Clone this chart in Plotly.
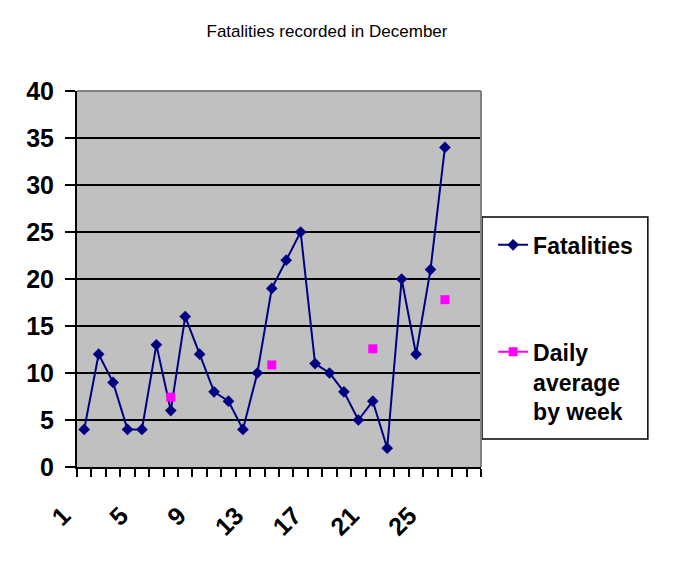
import plotly.graph_objects as go

# Days of December (categories 1..28 on the axis)
days = list(range(1, 27))
fatalities = [4, 12, 9, 4, 4, 13, 6, 16, 12, 8, 7, 4, 10,
              19, 22, 25, 11, 10, 8, 5, 7, 2, 20, 12, 21, 34]

# Weekly daily average, plotted on the last day of each week
avg_days = [7, 14, 21, 26]
avg_values = [7.43, 10.86, 12.57, 17.8]

x_labels = [1, 5, 9, 13, 17, 21, 25]
n_categories = 28

fig = go.Figure()

fig.add_trace(go.Scatter(
    x=days, y=fatalities,
    mode='lines+markers',
    name='Fatalities',
    legendgroup='a',
    line=dict(color='#000080', width=2),
    marker=dict(symbol='diamond', size=9, color='#000080'),
))

# put gaps between points so only markers show, but legend keeps the line
avg_x, avg_y = [], []
for d, v in zip(avg_days, avg_values):
    avg_x += [d, None]
    avg_y += [v, None]

fig.add_trace(go.Scatter(
    x=avg_x, y=avg_y,
    mode='lines+markers',
    name='Daily<br>average<br>by week',
    legendgroup='b',
    connectgaps=False,
    line=dict(color='#FF00FF', width=2),
    marker=dict(symbol='square', size=9, color='#FF00FF'),
))

tick_font = dict(family='Arial', size=25, color='black', weight='bold')

# page body adds an 8px offset, margins compensate for it
fig.update_layout(
    width=679, height=565,
    margin=dict(l=69, r=206, t=83, b=106),
    paper_bgcolor='white',
    plot_bgcolor='#C0C0C0',
    title=dict(text='Fatalities recorded in December',
               font=dict(family='Arial', size=17, color='black'),
               xref='container', x=(327 - 8) / 679, xanchor='center',
               yref='container', y=1 - 23 / 565, yanchor='middle'),
    showlegend=True,
    legend=dict(
        x=1.03, y=0.648, xanchor='left', yanchor='top',
        bgcolor='rgba(0,0,0,0)', borderwidth=0,
        font=dict(family='Arial', size=23, color='black', weight='bold'),
        traceorder='grouped', tracegroupgap=74, valign='top',
    ),
    shapes=[
        # legend box
        dict(type='rect', xref='paper', yref='paper',
             x0=1.0025, x1=1.413, y0=0.0745, y1=0.665,
             line=dict(color='black', width=1.5), fillcolor='white',
             layer='below'),
        # grey plot border on top and right
        dict(type='line', xref='paper', yref='paper',
             x0=0, x1=1, y0=1, y1=1, line=dict(color='#808080', width=2)),
        dict(type='line', xref='paper', yref='paper',
             x0=1, x1=1, y0=0, y1=1, line=dict(color='#808080', width=2)),
    ],
)

fig.update_xaxes(
    range=[0.5, n_categories + 0.5],
    tickmode='array', tickvals=x_labels, ticktext=[str(v) for v in x_labels],
    ticks='', tickangle=-45, tickfont=tick_font,
    ticklabelstandoff=22, ticklabelshift=-21,
    showgrid=False, zeroline=False,
    showline=True, linecolor='black', linewidth=2,
    minor=dict(tick0=0.5, dtick=1, ticks='outside', ticklen=8,
               tickcolor='black', tickwidth=2, showgrid=False),
)

fig.update_yaxes(
    range=[0, 40], dtick=5,
    ticks='outside', ticklen=10, tickcolor='black', tickwidth=2,
    tickfont=tick_font, ticklabelstandoff=6,
    showgrid=True, gridcolor='black', gridwidth=2,
    zeroline=False,
    showline=True, linecolor='black', linewidth=2,
)

fig.write_html("out.html")
